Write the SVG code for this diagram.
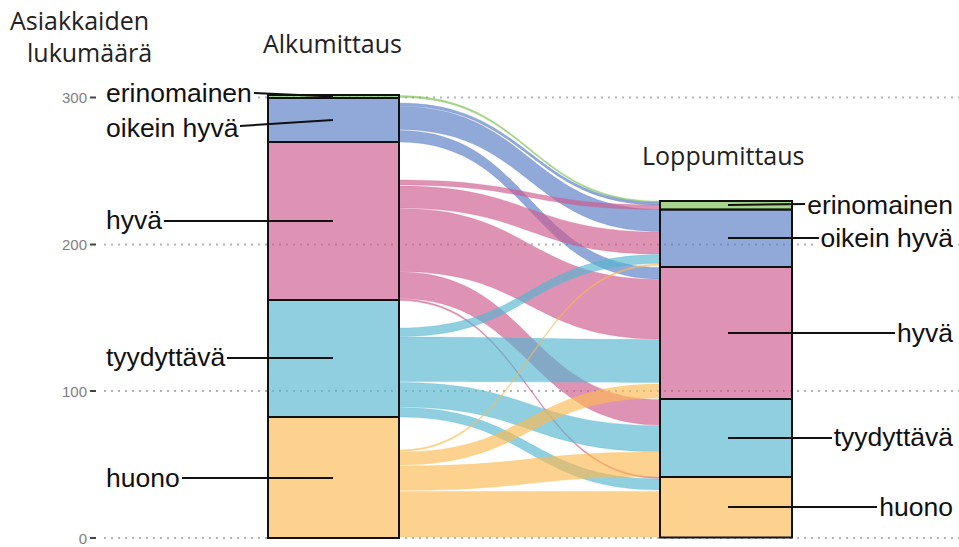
<svg xmlns="http://www.w3.org/2000/svg" width="959" height="547" viewBox="0 0 959 547">
<style>
.grid{stroke:#b4b4b4;stroke-width:2;stroke-dasharray:2 5;fill:none}
.tick{stroke:#444;stroke-width:2}
.tl{font-family:"Liberation Sans",Arial,sans-serif;font-size:15px;fill:#808080;text-anchor:end}
.hd{font-family:"Open Sans","Liberation Sans",sans-serif;font-size:25px;fill:#222}
.lb{font-family:"Liberation Sans",Arial,sans-serif;font-size:26.5px;fill:#111}
.end{text-anchor:end}
.box{fill:#fff}
.ld{stroke:#111;stroke-width:2;fill:none}
.f{fill-opacity:0.65;stroke-width:0.5;stroke-opacity:0.5}
.s{fill-opacity:0.65;stroke:#111;stroke-width:2}
.g{fill:#7abf52;stroke:#7abf52}
.b{fill:#567bc5;stroke:#567bc5}
.p{fill:#ce598c;stroke:#ce598c}
.c{fill:#53b6d0;stroke:#53b6d0}
.y{fill:#fcba52;stroke:#fcba52}
</style>
<rect width="959" height="547" fill="#fff"/>
<g id="axis">
<line class="grid" x1="104" y1="97.5" x2="959" y2="97.5"/>
<line class="grid" x1="104" y1="244.5" x2="959" y2="244.5"/>
<line class="grid" x1="104" y1="391" x2="959" y2="391"/>
<line class="grid" x1="104" y1="538" x2="959" y2="538"/>
<line class="tick" x1="90" y1="97.5" x2="96" y2="97.5"/>
<line class="tick" x1="90" y1="244.5" x2="96" y2="244.5"/>
<line class="tick" x1="90" y1="391" x2="96" y2="391"/>
<line class="tick" x1="90" y1="538" x2="96" y2="538"/>
<text class="tl" x="87" y="103">300</text>
<text class="tl" x="87" y="250">200</text>
<text class="tl" x="87" y="396.5">100</text>
<text class="tl" x="87" y="543.5">0</text>
<text class="hd" x="10" y="30">Asiakkaiden</text>
<text class="hd" x="27" y="62">lukumäärä</text>
<text class="hd" x="263" y="53">Alkumittaus</text>
<text class="hd" x="642" y="165">Loppumittaus</text>
</g>
<g id="flows">
<path class="f g" d="M399,95.5 C529.5,95.5 529.5,201 660,201 L660,202.5 C529.5,202.5 529.5,97.5 399,97.5Z"/>
<path class="f b" d="M399,103 C529.5,103 529.5,202.5 660,202.5 L660,205 C529.5,205 529.5,106 399,106Z"/>
<path class="f b" d="M399,106.5 C529.5,106.5 529.5,209.5 660,209.5 L660,231.5 C529.5,231.5 529.5,129.5 399,129.5Z"/>
<path class="f b" d="M399,130.5 C529.5,130.5 529.5,267.5 660,267.5 L660,279 C529.5,279 529.5,142 399,142Z"/>
<path class="f p" d="M399,180 C529.5,180 529.5,205 660,205 L660,209.5 C529.5,209.5 529.5,185 399,185Z"/>
<path class="f p" d="M399,186 C529.5,186 529.5,232 660,232 L660,254 C529.5,254 529.5,208 399,208Z"/>
<path class="f p" d="M399,208.5 C529.5,208.5 529.5,279.5 660,279.5 L660,339 C529.5,339 529.5,271.5 399,271.5Z"/>
<path class="f p" d="M399,272 C529.5,272 529.5,399.5 660,399.5 L660,425 C529.5,425 529.5,298.5 399,298.5Z"/>
<path class="f p" d="M399,299 C529.5,299 529.5,477 660,477 L660,478.5 C529.5,478.5 529.5,300.5 399,300.5Z"/>
<path class="f c" d="M399,328 C529.5,328 529.5,254.5 660,254.5 L660,263.5 C529.5,263.5 529.5,336.5 399,336.5Z"/>
<path class="f c" d="M399,337 C529.5,337 529.5,339.5 660,339.5 L660,382.5 C529.5,382.5 529.5,381.5 399,381.5Z"/>
<path class="f c" d="M399,382.5 C529.5,382.5 529.5,425.5 660,425.5 L660,451.5 C529.5,451.5 529.5,407 399,407Z"/>
<path class="f c" d="M399,407.5 C529.5,407.5 529.5,479 660,479 L660,490 C529.5,490 529.5,417 399,417Z"/>
<path class="f y" d="M399,450 C529.5,450 529.5,264 660,264 L660,265.5 C529.5,265.5 529.5,451.5 399,451.5Z"/>
<path class="f y" d="M399,452 C529.5,452 529.5,384 660,384 L660,398 C529.5,398 529.5,465 399,465Z"/>
<path class="f y" d="M399,466 C529.5,466 529.5,452 660,452 L660,476.5 C529.5,476.5 529.5,490.5 399,490.5Z"/>
<path class="f y" d="M399,491.5 C529.5,491.5 529.5,491.5 660,491.5 L660,537 C529.5,537 529.5,537 399,537Z"/>
</g>
<g id="alku-huono">
<rect class="s y" x="268" y="417" width="131" height="121" style="stroke:#111"/>
<rect class="box" x="102" y="462" width="82" height="33"/>
<text class="lb" x="106" y="487">huono</text>
<line class="ld" x1="182" y1="478" x2="333" y2="478"/>
</g>
<g id="alku-tyydyttava">
<rect class="s c" x="268" y="300" width="131" height="117" style="stroke:#111"/>
<rect class="box" x="102" y="342" width="127" height="33"/>
<text class="lb" x="106" y="366">tyydyttävä</text>
<line class="ld" x1="227" y1="358" x2="333" y2="358"/>
</g>
<g id="alku-hyva">
<rect class="s p" x="268" y="142" width="131" height="158" style="stroke:#111"/>
<rect class="box" x="102" y="205" width="64" height="33"/>
<text class="lb" x="106" y="229">hyvä</text>
<line class="ld" x1="164" y1="221" x2="333" y2="221"/>
</g>
<g id="alku-oikein-hyva">
<rect class="s b" x="268" y="98" width="131" height="44" style="stroke:#111"/>
<rect class="box" x="102" y="112" width="140" height="33"/>
<text class="lb" x="106" y="137">oikein hyvä</text>
<line class="ld" x1="240" y1="126" x2="333" y2="120"/>
</g>
<g id="alku-erinomainen">
<rect class="s g" x="268" y="95" width="131" height="3" style="stroke:#111"/>
<rect class="box" x="102" y="80" width="154" height="28"/>
<text class="lb" x="106" y="102">erinomainen</text>
<line class="ld" x1="254" y1="93" x2="333" y2="96.5"/>
</g>
<g id="loppu-huono">
<rect class="s y" x="660" y="477" width="132" height="60.5" style="stroke:#111"/>
<rect class="box" x="876" y="492" width="81" height="33"/>
<text class="lb end" x="953" y="516">huono</text>
<line class="ld" x1="728" y1="507" x2="877" y2="507"/>
</g>
<g id="loppu-tyydyttava">
<rect class="s c" x="660" y="399" width="132" height="78" style="stroke:#111"/>
<rect class="box" x="830" y="422" width="127" height="33"/>
<text class="lb end" x="953" y="446">tyydyttävä</text>
<line class="ld" x1="728" y1="438" x2="832" y2="438"/>
</g>
<g id="loppu-hyva">
<rect class="s p" x="660" y="267" width="132" height="132" style="stroke:#111"/>
<rect class="box" x="893" y="318" width="64" height="32"/>
<text class="lb end" x="953" y="342">hyvä</text>
<line class="ld" x1="728" y1="333" x2="895" y2="333"/>
</g>
<g id="loppu-oikein-hyva">
<rect class="s b" x="660" y="209.5" width="132" height="57.5" style="stroke:#111"/>
<rect class="box" x="817" y="223" width="140" height="33"/>
<text class="lb end" x="953" y="247">oikein hyvä</text>
<line class="ld" x1="728" y1="238" x2="819" y2="238"/>
</g>
<g id="loppu-erinomainen">
<rect class="s g" x="660" y="201" width="132" height="8.5" style="stroke:#111"/>
<rect class="box" x="803" y="190" width="154" height="30"/>
<text class="lb end" x="953" y="214">erinomainen</text>
<line class="ld" x1="728" y1="205" x2="805" y2="204"/>
</g>
</svg>
